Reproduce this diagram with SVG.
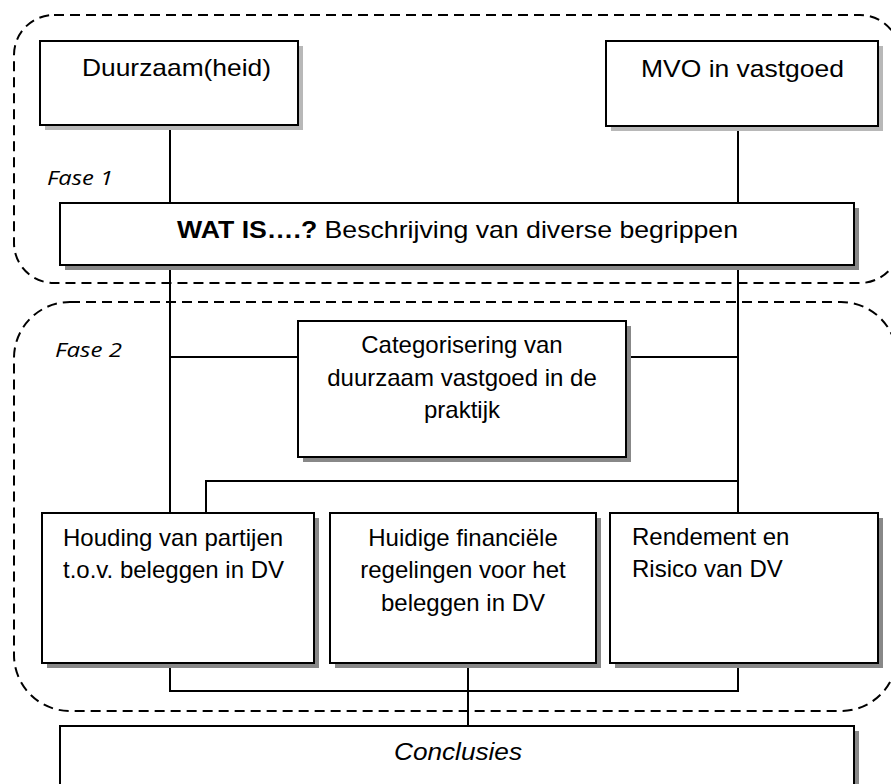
<svg xmlns="http://www.w3.org/2000/svg" width="891" height="784" viewBox="0 0 891 784">
<style>
.bg{fill:#ffffff}
.box{fill:#ffffff;stroke:#000000;stroke-width:2}
.sh{fill:#888888}
.shl{fill:#b8b8b8}
.region{fill:none;stroke:#000000;stroke-width:2;stroke-dasharray:10 6}
.conn line, .conn polyline{stroke:#000000;stroke-width:2;fill:none}
.t{font-family:"Liberation Sans",Arial,sans-serif;font-size:24px;fill:#000000}
.fase{font-family:"Open Sans","Noto Sans",sans-serif;font-style:italic;font-size:20px;fill:#000000}
</style>
<rect class="bg" x="0" y="0" width="891" height="784"/>
<g id="fase1-region">
<rect class="region" x="14" y="15" width="886" height="268" rx="40" ry="40"/>
<text class="fase" x="47" y="185" textLength="66" lengthAdjust="spacingAndGlyphs">Fase 1</text>
</g>
<g id="fase2-region">
<rect class="region" x="14" y="302" width="883" height="409" rx="56" ry="56"/>
<text class="fase" x="55" y="357" textLength="67" lengthAdjust="spacingAndGlyphs">Fase 2</text>
</g>
<g class="conn" id="connectors">
<line x1="170" y1="126" x2="170" y2="203"/>
<line x1="738" y1="127" x2="738" y2="203"/>
<line x1="170" y1="265" x2="170" y2="513"/>
<line x1="738" y1="265" x2="738" y2="513"/>
<line x1="170" y1="357" x2="298" y2="357"/>
<line x1="626" y1="357" x2="738" y2="357"/>
<polyline points="206,513 206,481 738,481"/>
<polyline points="170,663 170,691 738,691 738,663"/>
<line x1="468" y1="663" x2="468" y2="726"/>
</g>
<g id="duurzaamheid">
<rect class="shl" x="45" y="46" width="258" height="84"/>
<rect class="box" x="40" y="41" width="258" height="84"/>
<text class="t" x="82" y="76" textLength="189" lengthAdjust="spacingAndGlyphs">Duurzaam(heid)</text>
</g>
<g id="mvo">
<rect class="shl" x="611" y="46" width="272" height="85"/>
<rect class="box" x="606" y="41" width="272" height="85"/>
<text class="t" x="641" y="77" textLength="203" lengthAdjust="spacingAndGlyphs">MVO in vastgoed</text>
</g>
<g id="watis">
<rect class="sh" x="65" y="208" width="794" height="62"/>
<rect class="box" x="60" y="203" width="794" height="62"/>
<text class="t" x="177" y="238" textLength="561" lengthAdjust="spacingAndGlyphs"><tspan font-weight="bold">WAT IS….?</tspan> Beschrijving van diverse begrippen</text>
</g>
<g id="categorisering">
<rect class="sh" x="303" y="326" width="328" height="136"/>
<rect class="box" x="298" y="321" width="328" height="136"/>
<text class="t" text-anchor="middle"><tspan x="462" y="353">Categorisering van</tspan><tspan x="462" y="386">duurzaam vastgoed in de</tspan><tspan x="462" y="418">praktijk</tspan></text>
</g>
<g id="houding">
<rect class="sh" x="47" y="518" width="272" height="150"/>
<rect class="box" x="42" y="513" width="272" height="150"/>
<text class="t"><tspan x="63" y="546">Houding van partijen</tspan><tspan x="63" y="578">t.o.v. beleggen in DV</tspan></text>
</g>
<g id="huidige">
<rect class="sh" x="335" y="518" width="266" height="150"/>
<rect class="box" x="330" y="513" width="266" height="150"/>
<text class="t" text-anchor="middle"><tspan x="463" y="546">Huidige financiële</tspan><tspan x="463" y="578">regelingen voor het</tspan><tspan x="463" y="611">beleggen in DV</tspan></text>
</g>
<g id="rendement">
<rect class="sh" x="615" y="518" width="268" height="150"/>
<rect class="box" x="610" y="513" width="268" height="150"/>
<text class="t"><tspan x="632" y="545">Rendement en</tspan><tspan x="632" y="577">Risico van DV</tspan></text>
</g>
<g id="conclusies">
<rect class="sh" x="65" y="731" width="794" height="70"/>
<rect class="box" x="60" y="726" width="794" height="70"/>
<text class="t" x="458" y="760" text-anchor="middle" font-style="italic" textLength="128" lengthAdjust="spacingAndGlyphs">Conclusies</text>
</g>
</svg>
